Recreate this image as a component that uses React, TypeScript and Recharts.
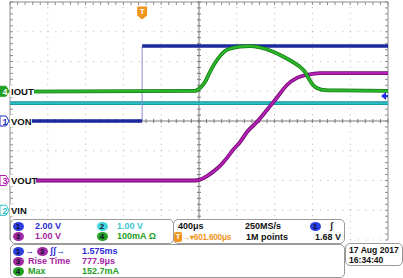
import { LineChart, Line, XAxis, YAxis, ReferenceLine, ReferenceDot } from "recharts";

// 400 us/div, trigger at t = 0, screen centre at +601.6 us
const T_START = -1398.4;
const T_DIV = 400;
const T_END = T_START + 10 * T_DIV;
const T_CENTER = T_START + 5 * T_DIV;

// CH1 VON, 2 V/div
const vonTime = [T_START, 0, 0, T_END];
const vonVolts = [0, 0, 5.04, 5.04];

// CH2 VIN, 1 V/div
const vinTime = [T_START, T_END];
const vinVolts = [3.6, 3.6];

// CH3 VOUT, 1 V/div
const voutTime = [T_START, 559.3, 612.2, 686.3, 749.7, 823.8, 897.9, 961.4, 1035.5, 1109.5, 1215.4, 1321.2, 1427.0, 1532.8, 1638.6, 1744.5, 1882.0, T_END];
const voutVolts = [0, 0, 0.03, 0.15, 0.29, 0.49, 0.76, 1.03, 1.29, 1.63, 1.97, 2.37, 2.79, 3.21, 3.45, 3.55, 3.61, 3.61];

// CH4 IOUT, 100 mA/div
const ioutTime = [T_START, 559.3, 612.2, 665.1, 718.0, 770.9, 823.8, 876.7, 950.8, 1035.5, 1141.3, 1247.1, 1352.9, 1490.5, 1596.3, 1670.4, 1723.3, 1765.6, 1807.9, 1860.9, 1934.9, 2093.7, T_END];
const ioutMa = [-1, 1, 11, 31, 65, 95, 118, 135, 145, 150, 152, 147, 137, 117, 98, 82, 65, 41, 21, 9, 4, 3, 1];

const TRIG_LEVEL = 1.68;

const FONT = "'Liberation Sans', Arial, sans-serif";
const C_BLUE = "#1d2a9e";
const C_CYAN = "#2bbcc4";
const C_MAG = "#b41fb4";
const C_GREEN = "#2ab82a";
const C_ORANGE = "#f0961e";

const toRows = (ts: number[], vs: (number | null)[]) => ts.map((t, i) => ({ t, v: vs[i] }));

const vonRows = toRows(vonTime, vonVolts);
// break the thick trace at the fast edge so only the faint edge line shows there
const vonLevels = [...vonRows.slice(0, 2), { t: 0, v: null }, ...vonRows.slice(2)];
const vinRows = toRows(vinTime, vinVolts);
const voutRows = toRows(voutTime, voutVolts);
const ioutRows = toRows(ioutTime, ioutMa);

const xGrid = Array.from({ length: 11 }, (_, i) => T_START + i * T_DIV);
const yGrid = Array.from({ length: 9 }, (_, i) => -8 + i * 2);
const xMinor = Array.from({ length: 51 }, (_, i) => T_START + (i * T_DIV) / 5);
const yMinor = Array.from({ length: 41 }, (_, i) => -8 + i * 0.4);

const TX = 21; // ~2px in time units
const TY = 0.134; // ~2px in ch1 volts

const ChannelTag = ({ cx, cy, num, name, color, filled, w }: any) => (
  <g fontFamily={FONT} fontWeight={700}>
    <rect x={cx} y={cy - 6} width={w} height={12} fill="#fff" />
    <path
      d={`M${cx - 10} ${cy - 5} h6 l3 5 l-3 5 h-6 z`}
      fill={filled ? color : "#fff"}
      stroke={color}
      strokeWidth={1}
    />
    <text x={cx - 7.5} y={cy + 3.5} fontSize={9} fill={filled ? "#fff" : color}>{num}</text>
    <text x={cx + 1} y={cy + 3.5} fontSize={9.5} fill="#111">{name}</text>
  </g>
);

const TrigMark = ({ cx, cy }: any) => (
  <g fontFamily={FONT} fontWeight={700}>
    <path d={`M${cx - 5} ${cy - 6} h10 v9 l-5 4 l-5 -4 z`} fill={C_ORANGE} />
    <text x={cx} y={cy + 2} fontSize={8} fill="#fff" textAnchor="middle">T</text>
  </g>
);

const LevelMark = ({ cx, cy }: any) => (
  <g>
    <path d={`M${cx - 7} ${cy} L${cx - 2} ${cy - 4} L${cx - 2} ${cy + 4} Z`} fill="#1f2fe6" />
    <rect x={cx - 3} y={cy - 1} width={3} height={2} fill="#1f2fe6" />
  </g>
);

const Dot = ({ n, color, x, y }: any) => (
  <div
    style={{
      position: "absolute", left: x - 5.5, top: y - 4.5, width: 11, height: 9, borderRadius: "50%",
      background: color, color: "#101030", fontSize: 8, lineHeight: "9px", textAlign: "center", fontWeight: 700,
    }}
  >
    {n}
  </div>
);

const Txt = ({ x, y, color = "#111", size = 9, ls = 0, children }: any) => (
  <div style={{ position: "absolute", left: x, top: y - 6, fontSize: size, letterSpacing: ls, lineHeight: "12px", color, whiteSpace: "nowrap", fontWeight: 700 }}>
    {children}
  </div>
);

const Box = ({ x, y, w, h }: any) => (
  <div style={{ position: "absolute", left: x, top: y, width: w, height: h, border: "1px solid #9a9a9a", borderRadius: 5, background: "#fff", boxSizing: "border-box" }} />
);

export default function App() {
  return (
    <div style={{ position: "absolute", left: 0, top: 0, width: 403, height: 278, background: "#fff", overflow: "hidden", fontFamily: FONT }}>
      <LineChart width={403} height={278} margin={{ top: 2, right: 15, bottom: 38, left: 10 }}>
        <XAxis type="number" dataKey="t" domain={[T_START, T_END]} allowDataOverflow hide />
        <YAxis yAxisId="ch1" type="number" domain={[-8, 8]} allowDataOverflow hide />
        <YAxis yAxisId="ch2" type="number" domain={[-1, 7]} allowDataOverflow hide />
        <YAxis yAxisId="ch3" type="number" domain={[-2, 6]} allowDataOverflow hide />
        <YAxis yAxisId="ch4" type="number" domain={[-500, 300]} allowDataOverflow hide />

        {xGrid.map((x, i) => (
          <ReferenceLine
            key={"gx" + i}
            x={x}
            yAxisId="ch1"
            stroke={i === 5 ? "#7a7a7a" : i === 0 || i === 10 ? "#8c8c8c" : "#b4b4b4"}
            strokeDasharray={i === 0 || i === 5 || i === 10 ? undefined : "1 4.95"}
          />
        ))}
        {yGrid.map((y, i) => (
          <ReferenceLine
            key={"gy" + i}
            y={y}
            yAxisId="ch1"
            stroke={i === 4 ? "#7a7a7a" : i === 8 ? "#8c8c8c" : "#b4b4b4"}
            strokeDasharray={i === 4 || i === 8 ? undefined : "1 6.56"}
          />
        ))}
        {xMinor.map((x, i) => (
          <ReferenceLine key={"mc" + i} yAxisId="ch1" stroke="#7a7a7a" segment={[{ x, y: -TY }, { x, y: TY }]} />
        ))}
        {xMinor.map((x, i) => (
          <ReferenceLine key={"mt" + i} yAxisId="ch1" stroke="#8c8c8c" segment={[{ x, y: 8 }, { x, y: 8 - 1.5 * TY }]} />
        ))}
        {yMinor.map((y, i) => (
          <ReferenceLine key={"vc" + i} yAxisId="ch1" stroke="#7a7a7a" segment={[{ x: T_CENTER - TX, y }, { x: T_CENTER + TX, y }]} />
        ))}
        {yMinor.map((y, i) => (
          <ReferenceLine key={"vl" + i} yAxisId="ch1" stroke="#8c8c8c" segment={[{ x: T_START, y }, { x: T_START + 1.5 * TX, y }]} />
        ))}
        {yMinor.map((y, i) => (
          <ReferenceLine key={"vr" + i} yAxisId="ch1" stroke="#8c8c8c" segment={[{ x: T_END - 1.5 * TX, y }, { x: T_END, y }]} />
        ))}

        <Line yAxisId="ch2" data={vinRows} dataKey="v" type="linear" stroke="#178f96" strokeWidth={3.6} dot={false} activeDot={false} isAnimationActive={false} />
        <Line yAxisId="ch2" data={vinRows} dataKey="v" type="linear" stroke={C_CYAN} strokeWidth={2} dot={false} activeDot={false} isAnimationActive={false} />

        <Line yAxisId="ch1" data={vonRows} dataKey="v" type="linear" stroke="#8a8ad6" strokeWidth={1} dot={false} activeDot={false} isAnimationActive={false} />
        <Line yAxisId="ch1" data={vonLevels} dataKey="v" type="linear" stroke={C_BLUE} strokeWidth={3.4} dot={false} activeDot={false} isAnimationActive={false} />

        <Line yAxisId="ch3" data={voutRows} dataKey="v" type="monotone" stroke="#6e0a6e" strokeWidth={3.8} dot={false} activeDot={false} isAnimationActive={false} />
        <Line yAxisId="ch3" data={voutRows} dataKey="v" type="monotone" stroke={C_MAG} strokeWidth={2.2} dot={false} activeDot={false} isAnimationActive={false} />

        <Line yAxisId="ch4" data={ioutRows} dataKey="v" type="monotone" stroke="#157a15" strokeWidth={3.8} dot={false} activeDot={false} isAnimationActive={false} />
        <Line yAxisId="ch4" data={ioutRows} dataKey="v" type="monotone" stroke={C_GREEN} strokeWidth={2.2} dot={false} activeDot={false} isAnimationActive={false} />

        <ReferenceDot x={T_START} y={0} yAxisId="ch4" ifOverflow="visible" shape={(p: any) => <ChannelTag {...p} num="4" name="IOUT" color="#22a022" filled w={24} />} />
        <ReferenceDot x={T_START} y={0} yAxisId="ch1" ifOverflow="visible" shape={(p: any) => <ChannelTag {...p} num="1" name="VON" color="#2030c0" w={22} />} />
        <ReferenceDot x={T_START} y={0} yAxisId="ch3" ifOverflow="visible" shape={(p: any) => <ChannelTag {...p} num="3" name="VOUT" color={C_MAG} w={26} />} />
        <ReferenceDot x={T_START} y={0} yAxisId="ch2" ifOverflow="visible" shape={(p: any) => <ChannelTag {...p} num="2" name="VIN" color={C_CYAN} w={18} />} />
        <ReferenceDot x={0} y={7.3} yAxisId="ch1" ifOverflow="visible" shape={(p: any) => <TrigMark {...p} />} />
        <ReferenceDot x={T_END} y={TRIG_LEVEL} yAxisId="ch1" ifOverflow="visible" shape={(p: any) => <LevelMark {...p} />} />
      </LineChart>

      <Box x={10} y={219} w={164} h={25} />
      <Box x={173} y={219} w={172} h={25} />
      <Box x={10} y={244} w={335} h={34} />
      <Box x={345} y={243} w={58} h={23} />

      <Dot n="1" color="#2a3ee0" x={18} y={226} />
      <Txt x={35} y={226} color="#2b2bd6">2.00 V</Txt>
      <Dot n="2" color="#46d6de" x={102} y={226} />
      <Txt x={117} y={226} color="#3cc8d0">1.00 V</Txt>
      <Dot n="3" color="#a22aa2" x={18} y={236} />
      <Txt x={35} y={236} color="#a424a4">1.00 V</Txt>
      <Dot n="4" color="#22a022" x={102} y={236} />
      <Txt x={117} y={236} color="#23a023">100mA Ω</Txt>

      <Txt x={178} y={226}>400μs</Txt>
      <Txt x={245} y={226}>250MS/s</Txt>
      <Dot n="1" color="#2a3ee0" x={315} y={226} />
      <Txt x={330} y={226}>ʃ</Txt>
      <div style={{ position: "absolute", left: 174, top: 232, width: 8, height: 10, borderRadius: 2, background: C_ORANGE, color: "#fff", fontSize: 7.5, lineHeight: "10px", textAlign: "center", fontWeight: 700 }}>T</div>
      <Txt x={182} y={237} color={C_ORANGE} size={8.4} ls={-0.3}>→▾601.600μs</Txt>
      <Txt x={246} y={237}>1M points</Txt>
      <Txt x={315} y={237}>1.68 V</Txt>

      <Dot n="1" color="#2a3ee0" x={18} y={251} />
      <Txt x={25} y={251} color="#2b2bd6">→</Txt>
      <Dot n="3" color="#a22aa2" x={42} y={251} />
      <Txt x={50} y={251} color="#2b2bd6">ʃʃ→</Txt>
      <Txt x={82} y={251} color="#2b2bd6">1.575ms</Txt>
      <Dot n="3" color="#a22aa2" x={18} y={261} />
      <Txt x={28} y={261} color="#a424a4">Rise Time</Txt>
      <Txt x={82} y={261} color="#a424a4">777.9μs</Txt>
      <Dot n="4" color="#22a022" x={18} y={271} />
      <Txt x={28} y={271} color="#23a023">Max</Txt>
      <Txt x={82} y={271} color="#23a023">152.7mA</Txt>

      <Txt x={349} y={250} size={8.6}>17 Aug 2017</Txt>
      <Txt x={349} y={260} size={8.6}>16:34:40</Txt>
    </div>
  );
}
